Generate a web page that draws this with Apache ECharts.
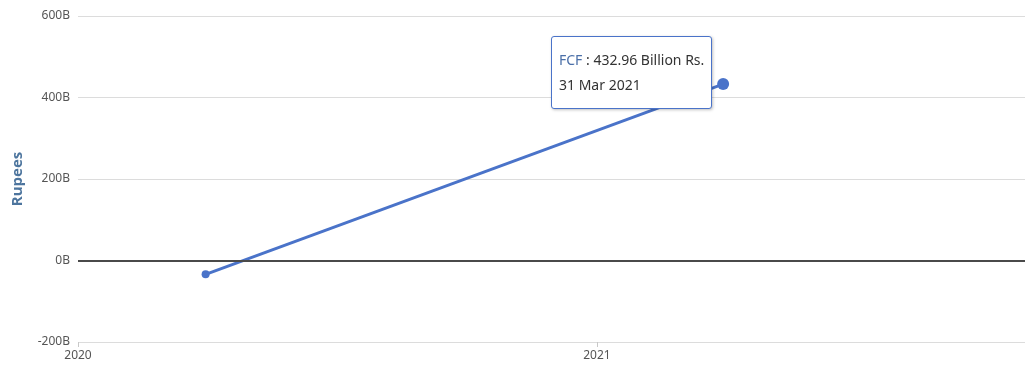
<!DOCTYPE html>
<html><head><meta charset="utf-8">
<script src="https://cdn.jsdelivr.net/npm/echarts@6/dist/echarts.min.js"></script>
<style>html,body{margin:0;padding:0;background:#fff;overflow:hidden}#c{width:1028px;height:365px}</style>
</head><body><div id="c"></div>
<script>
const seriesName = 'FCF';
const dates = ['2020-03-31', '2021-03-31'];
const values = [-34, 432.96];
const yTicks = [-200, 0, 200, 400, 600];
const xMin = '2020-01-01';
const xMax = '2021-11-01';
const xTickStep = '2021-01-01';
const months = ['Jan','Feb','Mar','Apr','May','Jun','Jul','Aug','Sep','Oct','Nov','Dec'];
const font = '"Noto Sans", "Open Sans", sans-serif';
const ts = s => Date.parse(s + 'T00:00:00Z');

const chart = echarts.init(document.getElementById('c'));
chart.setOption({
  animation: false,
  grid: {left: 78, right: 0, top: 16, bottom: 23, containLabel: false},
  xAxis: {
    type: 'value',
    min: ts(xMin), max: ts(xMax),
    interval: ts(xTickStep) - ts(xMin),
    axisLine: {show: false, onZero: false},
    axisTick: {show: true, length: 5, lineStyle: {color: '#c8c8c8'}},
    splitLine: {show: false},
    axisLabel: {formatter: v => String(new Date(v).getUTCFullYear()), color: '#555', fontSize: 12,
      fontFamily: font, margin: 8, showMinLabel: true, showMaxLabel: false, hideOverlap: false}
  },
  yAxis: {
    type: 'value', min: yTicks[0], max: yTicks[yTicks.length - 1], interval: 200,
    name: 'Rupees', nameLocation: 'middle', nameGap: 53,
    nameTextStyle: {color: '#4d759e', fontWeight: 'bold', fontSize: 15, fontFamily: '"Open Sans", sans-serif'},
    axisLine: {show: false}, axisTick: {show: false},
    axisLabel: {formatter: v => v + 'B', color: '#555', fontSize: 12, fontFamily: font, margin: 8},
    splitLine: {show: true, lineStyle: {color: '#dcdcdc', width: 1}}
  },
  tooltip: {
    trigger: 'item', alwaysShowContent: true, transitionDuration: 0,
    backgroundColor: '#fff', borderColor: '#4a73c9', borderWidth: 1, borderRadius: 3,
    padding: [10, 7, 11, 7],
    extraCssText: 'box-shadow: 1px 1px 3px rgba(0,0,0,0.25);line-height:25px;',
    textStyle: {fontFamily: font, fontSize: 14, color: '#333'},
    position: (point) => [point[0] - 172, point[1] - 48],
    formatter: (p) => {
      const d = new Date(p.value[0]);
      return '<span style="color:#4a6fa8">' + p.seriesName + '</span> : ' + p.value[1] + ' Billion Rs.<br>' +
        d.getUTCDate() + ' ' + months[d.getUTCMonth()] + ' ' + d.getUTCFullYear();
    }
  },
  series: [{
    name: seriesName, type: 'line',
    data: dates.map((d, i) => ({
      value: [ts(d), values[i]],
      symbolSize: i === 1 ? 12 : 8
    })),
    symbol: 'circle',
    lineStyle: {color: '#4a73c9', width: 3},
    itemStyle: {color: '#4a73c9'},
    emphasis: {disabled: true},
    markLine: {
      silent: true, symbol: 'none', label: {show: false},
      lineStyle: {color: '#4a4a4a', width: 2, type: 'solid'},
      data: [{yAxis: 0}]
    }
  }]
});
chart.dispatchAction({type: 'showTip', seriesIndex: 0, dataIndex: 1});
</script></body></html>
